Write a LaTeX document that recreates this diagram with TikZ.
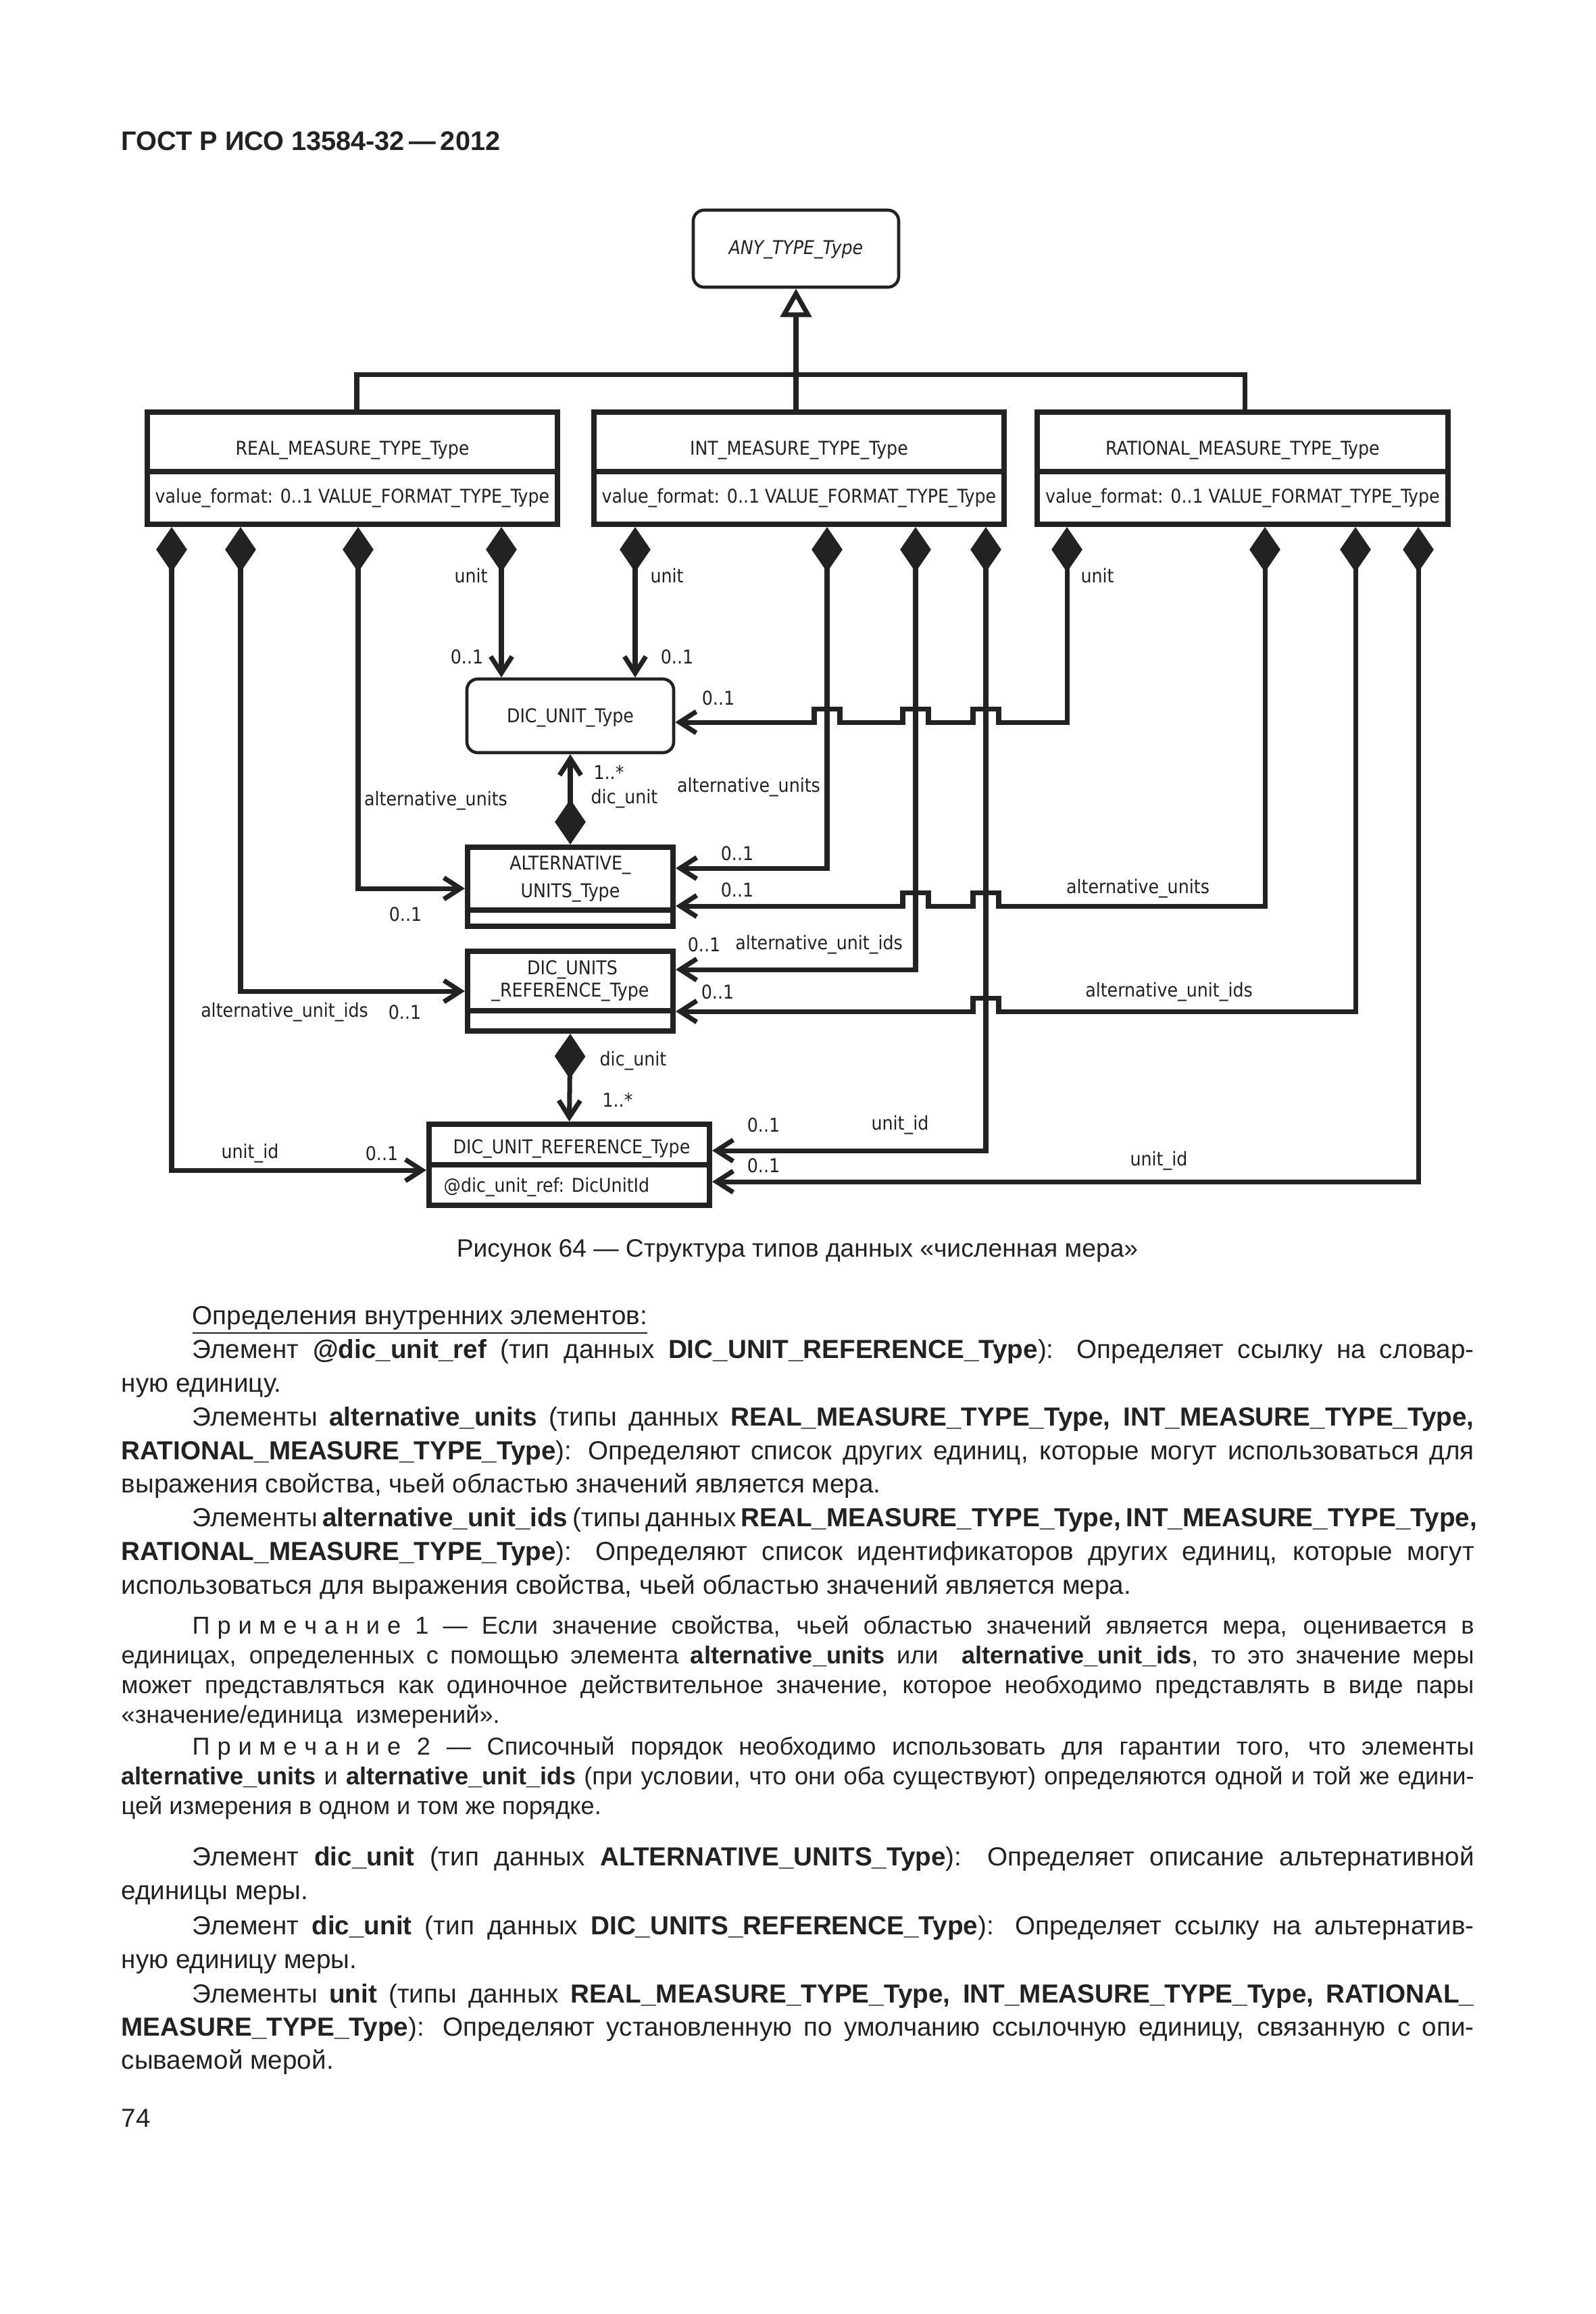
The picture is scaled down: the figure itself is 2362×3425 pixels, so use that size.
\documentclass[tikz,border=0pt]{standalone}
\usepackage{fontspec}
\setmainfont{Liberation Sans}
\newfontfamily\umlfont{DejaVu Sans Condensed}
\usetikzlibrary{arrows.meta, calc}
\definecolor{ink}{HTML}{222222}
% jump of a horizontal line over a vertical one (drawn leftwards)
\newcommand{\hop}{-- ++(0,-20) -- ++(-38,0) -- ++(0,20)}
\newcommand{\primech}{\mbox{П\kern.3emр\kern.3emи\kern.3emм\kern.3emе\kern.3emч\kern.3emа\kern.3emн\kern.3emи\kern.3emе}}
\begin{document}
\begin{tikzpicture}[
  x=0.1mm, y=-0.1mm,
  every node/.style={font=\umlfont\fontsize{8pt}{10pt}\selectfont, text=ink, inner sep=0pt},
  cls/.style={draw=ink, line width=2.3pt, fill=white},
  rbox/.style={draw=ink, line width=1.3pt, rounded corners=1.6mm, fill=white},
  div/.style={draw=ink, line width=2.3pt},
  comp/.style={draw=ink, line width=2pt, {Diamond[length=19pt,width=13pt]}-{Straight Barb[length=7pt,width=9pt]}},
  gen/.style={draw=ink, line width=2pt, -{Triangle[open,length=12pt,width=13pt]}},
  tree/.style={draw=ink, line width=2pt},
  line/.style={anchor=base west, font=\normalfont\fontsize{11pt}{14pt}\selectfont},
  note/.style={line, font=\normalfont\fontsize{10.3pt}{12.5pt}\selectfont},
  capt/.style={anchor=base, font=\normalfont\fontsize{10.6pt}{13pt}\selectfont}
]
\useasboundingbox (0,0) rectangle (2362,3425);
\fill[white] (0,0) rectangle (2362,3425);

% ---- HEADER ----
\node[line, font=\normalfont\bfseries\fontsize{11.3pt}{14pt}\selectfont] (head) at (179,222) {ГОСТ Р ИСО 13584-32\,—\,2012};

% ---- COLUMNS AND ROWS ----
\coordinate (ra) at (254,0);  \coordinate (rb) at (356,0);
\coordinate (rc) at (530,0);  \coordinate (rd) at (742,0);
\coordinate (ia) at (940,0);  \coordinate (ib) at (1224,0);
\coordinate (ic) at (1355,0); \coordinate (id) at (1459,0);
\coordinate (qa) at (1579,0); \coordinate (qb) at (1872,0);
\coordinate (qc) at (2006,0); \coordinate (qd) at (2099,0);
\coordinate (rg) at (528,0);  \coordinate (qg) at (1842,0);
\coordinate (ygen) at (0,554);
\coordinate (yu) at (0,1069);
\coordinate (yalt1) at (0,1285); \coordinate (yaltl) at (0,1315); \coordinate (yalt2) at (0,1341);
\coordinate (ydur1) at (0,1435); \coordinate (ydurl) at (0,1467); \coordinate (ydur2) at (0,1497);
\coordinate (ydt1) at (0,1703);  \coordinate (ydtl) at (0,1732);  \coordinate (ydt2) at (0,1749);

% ---- TYPES ----
\node[rbox, minimum width=30.4mm, minimum height=11.4mm] (any) at (1178,368) {};
\node (anyname) at (1178,370) {\itshape ANY\_TYPE\_Type};

\node[cls, minimum width=60.7mm, minimum height=16.6mm] (real) at (521.5,693) {};
\node[cls, minimum width=60.7mm, minimum height=16.6mm] (int) at (1182.5,693) {};
\node[cls, minimum width=60.8mm, minimum height=16.6mm] (rat) at (1839,693) {};
\foreach \t in {real,int,rat}
  \draw[div] ($(\t.north west)+(0,92)$) -- ($(\t.north east)+(0,92)$);
\node (realname) at (521.5,666) {REAL\_MEASURE\_TYPE\_Type};
\node (realattr) at (521.5,737) {value\_format: 0..1 VALUE\_FORMAT\_TYPE\_Type};
\node (intname) at (1182.5,666) {INT\_MEASURE\_TYPE\_Type};
\node (intattr) at (1182.5,737) {value\_format: 0..1 VALUE\_FORMAT\_TYPE\_Type};
\node (ratname) at (1839,666) {RATIONAL\_MEASURE\_TYPE\_Type};
\node (ratattr) at (1839,737) {value\_format: 0..1 VALUE\_FORMAT\_TYPE\_Type};

\node[rbox, minimum width=30.6mm, minimum height=10.9mm] (dicunit) at (844,1059.5) {};
\node (dicunitname) at (844,1062) {DIC\_UNIT\_Type};

\node[cls, minimum width=30.4mm, minimum height=11.7mm] (alt) at (844,1312.5) {};
\draw[div] ($(alt.north west)+(0,97)$) -- ($(alt.north east)+(0,97)$);
\node (altname1) at (844,1281) {ALTERNATIVE\_};
\node (altname2) at (844,1321) {UNITS\_Type};

\node[cls, minimum width=30.4mm, minimum height=11.8mm] (dur) at (844,1467) {};
\draw[div] ($(dur.north west)+(0,92)$) -- ($(dur.north east)+(0,92)$);
\node (durname1) at (847,1435) {DIC\_UNITS};
\node (durname2) at (844,1468) {\_REFERENCE\_Type};

\node[cls, minimum width=41.5mm, minimum height=12mm] (durt) at (842.5,1724) {};
\draw[div] ($(durt.north west)+(0,64)$) -- ($(durt.north east)+(0,64)$);
\node (durtname) at (846,1700) {DIC\_UNIT\_REFERENCE\_Type};
\node[anchor=west] (durtattr) at (656,1757) {@dic\_unit\_ref: DicUnitId};

% ---- GENERALIZATION ----
\draw[tree] (real.north -| rg) -- (rg |- ygen) -- (qg |- ygen) -- (rat.north -| qg);
\draw[gen] (int.north -| any.south) -- (any.south);

% ---- UNIT ----
\draw[comp] (real.south -| rd) -- (dicunit.north -| rd);
\draw[comp] (int.south -| ia) -- (dicunit.north -| ia);
\draw[comp] (rat.south -| qa) |- ($(id |- yu)+(19,0)$) \hop -- ($(ic |- yu)+(19,0)$) \hop
  -- ($(ib |- yu)+(19,0)$) \hop -- (dicunit.east |- yu);
\node (u1) at (697,852) {unit};
\node (u2) at (987,852) {unit};
\node (u3) at (1624,852) {unit};
\node (m1) at (691,972) {0..1};
\node (m2) at (1002,972) {0..1};
\node (m3) at (1063,1033) {0..1};

% ---- ALTERNATIVE UNITS ----
\draw[comp] (alt.north) -- (dicunit.south);
\node (m4) at (901,1143) {1..*};
\node (d1) at (924,1182) {dic\_unit};
\draw[comp] (real.south -| rc) |- (alt.west |- yaltl);
\draw[comp] (int.south -| ib) |- (alt.east |- yalt1);
\draw[comp] (rat.south -| qb) |- ($(id |- yalt2)+(19,0)$) \hop -- ($(ic |- yalt2)+(19,0)$) \hop
  -- (alt.east |- yalt2);
\node (a1) at (645,1185) {alternative\_units};
\node (a2) at (1108,1165) {alternative\_units};
\node (a3) at (1684,1315) {alternative\_units};
\node (m5) at (600,1353) {0..1};
\node (m6) at (1091,1263) {0..1};
\node (m7) at (1091,1317) {0..1};

% ---- ALTERNATIVE UNIT IDS ----
\draw[comp] (real.south -| rb) |- (dur.west |- ydurl);
\draw[comp] (int.south -| ic) |- (dur.east |- ydur1);
\draw[comp] (rat.south -| qc) |- ($(id |- ydur2)+(19,0)$) \hop -- (dur.east |- ydur2);
\node (b1) at (421,1498) {alternative\_unit\_ids};
\node (b2) at (1212,1398) {alternative\_unit\_ids};
\node (b3) at (1730,1468) {alternative\_unit\_ids};
\node (m8) at (599,1498) {0..1};
\node (m9) at (1042,1398) {0..1};
\node (m10) at (1062,1468) {0..1};

% ---- UNIT IDS ----
\draw[comp] (dur.south) -- (durt.north);
\node (d2) at (937,1570) {dic\_unit};
\node (m11) at (914,1628) {1..*};
\draw[comp] (real.south -| ra) |- (durt.west |- ydtl);
\draw[comp] (int.south -| id) |- (durt.east |- ydt1);
\draw[comp] (rat.south -| qd) |- (durt.east |- ydt2);
\node (c1) at (370,1707) {unit\_id};
\node (c2) at (1332,1665) {unit\_id};
\node (c3) at (1715,1718) {unit\_id};
\node (m12) at (565,1707) {0..1};
\node (m13) at (1130,1665) {0..1};
\node (m14) at (1130,1725) {0..1};

% ---- CAPTION AND TEXT ----
\node[capt] (caption) at (1180,1860) {Рисунок 64 — Структура типов данных «численная мера»};

\node[line] (t1) at (284,1960) {\underline{Определения внутренних элементов:}};
\node[line] (t2) at (284,2010) {\makebox[189.7mm][s]{Элемент \textbf{@dic\_unit\_ref} (тип данных \textbf{DIC\_UNIT\_REFERENCE\_Type}): Определяет ссылку на словар-}};
\node[line] (t3) at (179,2060) {ную единицу.};
\node[line] (t4) at (284,2110) {\makebox[189.7mm][s]{Элементы \textbf{alternative\_units} (типы данных \textbf{REAL\_MEASURE\_TYPE\_Type, INT\_MEASURE\_TYPE\_Type,}}};
\node[line] (t5) at (179,2160) {\makebox[200.2mm][s]{\textbf{RATIONAL\_MEASURE\_TYPE\_Type}): Определяют список других единиц, которые могут использоваться для}};
\node[line] (t6) at (179,2209) {выражения свойства, чьей областью значений является мера.};
\node[line] (t7) at (284,2259) {\makebox[189.7mm][s]{Элементы \textbf{alternative\_unit\_ids} (типы данных \textbf{REAL\_MEASURE\_TYPE\_Type, INT\_MEASURE\_TYPE\_Type,}}};
\node[line] (t8) at (179,2309) {\makebox[200.2mm][s]{\textbf{RATIONAL\_MEASURE\_TYPE\_Type}): Определяют список идентификаторов других единиц, которые могут}};
\node[line] (t9) at (179,2359) {использоваться для выражения свойства, чьей областью значений является мера.};

\node[note] (n1) at (284,2418) {\makebox[189.7mm][s]{\primech{} 1 — Если значение свойства, чьей областью значений является мера, оценивается в}};
\node[note] (n2) at (179,2462) {\makebox[200.2mm][s]{единицах, определенных с помощью элемента \textbf{alternative\_units} или \ \textbf{alternative\_unit\_ids}, то это значение меры}};
\node[note] (n3) at (179,2506) {\makebox[200.2mm][s]{может представляться как одиночное действительное значение, которое необходимо представлять в виде пары}};
\node[note] (n4) at (179,2550) {«значение/единица\ \ измерений».};
\node[note] (n5) at (284,2597) {\makebox[189.7mm][s]{\primech{} 2 — Списочный порядок необходимо использовать для гарантии того, что элементы}};
\node[note] (n6) at (179,2641) {\makebox[200.2mm][s]{\textbf{alternative\_units} и \textbf{alternative\_unit\_ids} (при условии, что они оба существуют) определяются одной и той же едини-}};
\node[note] (n7) at (179,2685) {цей измерения в одном и том же порядке.};

\node[line] (t10) at (284,2761) {\makebox[189.7mm][s]{Элемент \textbf{dic\_unit} (тип данных \textbf{ALTERNATIVE\_UNITS\_Type}): Определяет описание альтернативной}};
\node[line] (t11) at (179,2811) {единицы меры.};
\node[line] (t12) at (284,2863) {\makebox[189.7mm][s]{Элемент \textbf{dic\_unit} (тип данных \textbf{DIC\_UNITS\_REFERENCE\_Type}): Определяет ссылку на альтернатив-}};
\node[line] (t13) at (179,2913) {ную единицу меры.};
\node[line] (t14) at (284,2964) {\makebox[189.7mm][s]{Элементы \textbf{unit} (типы данных \textbf{REAL\_MEASURE\_TYPE\_Type, INT\_MEASURE\_TYPE\_Type, RATIONAL\_}}};
\node[line] (t15) at (179,3013) {\makebox[200.2mm][s]{\textbf{MEASURE\_TYPE\_Type}): Определяют установленную по умолчанию ссылочную единицу, связанную с опи-}};
\node[line] (t16) at (179,3062) {сываемой мерой.};

\node[line] (page) at (179,3148) {74};
\end{tikzpicture}
\end{document}
